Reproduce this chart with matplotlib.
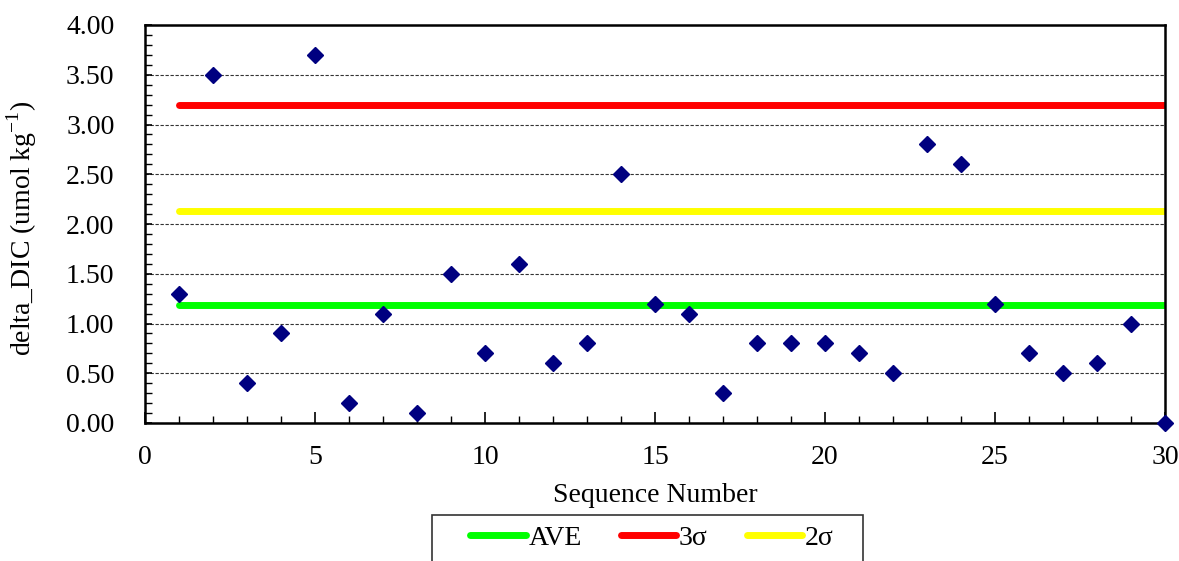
import matplotlib
matplotlib.use("Agg")
import matplotlib.pyplot as plt
from matplotlib.patches import Rectangle
from matplotlib.ticker import MultipleLocator, FormatStrFormatter

plt.rcParams['font.family'] = ['Liberation Serif', 'DejaVu Serif']
plt.rcParams['mathtext.fontset'] = 'custom'
plt.rcParams['mathtext.rm'] = 'Liberation Serif'

seq = list(range(1, 31))
delta_dic = [1.3, 3.5, 0.4, 0.9, 3.7, 0.2, 1.1, 0.1, 1.5, 0.7,
             1.6, 0.6, 0.8, 2.5, 1.2, 1.1, 0.3, 0.8, 0.8, 0.8,
             0.7, 0.5, 2.8, 2.6, 1.2, 0.7, 0.5, 0.6, 1.0, 0.0]
ave = 1.19
sigma3 = 3.20
sigma2 = 2.13
line_x = [1, 30]

fig = plt.figure(figsize=(11.79, 5.61), dpi=100)
ax = fig.add_axes([145/1179, 1-423/561, (1165-145)/1179, (423-25)/561])

ax.plot(line_x, [ave, ave], color='#00ff00', lw=5, solid_capstyle='round', label='AVE', zorder=2)
ax.plot(line_x, [sigma3, sigma3], color='#ff0000', lw=5, solid_capstyle='round', label='3σ', zorder=2)
ax.plot(line_x, [sigma2, sigma2], color='#ffff00', lw=5, solid_capstyle='round', label='2σ', zorder=2)
ax.plot(seq, delta_dic, linestyle='none', marker='D', markersize=8.5, color='#000080', zorder=3, clip_on=False)

ax.set_xlim(0, 30)
ax.set_ylim(0, 4.0)
ax.xaxis.set_major_locator(MultipleLocator(5))
ax.xaxis.set_minor_locator(MultipleLocator(1))
ax.yaxis.set_major_locator(MultipleLocator(0.5))
ax.yaxis.set_minor_locator(MultipleLocator(0.1))
ax.yaxis.set_major_formatter(FormatStrFormatter('%.2f'))
ax.grid(axis='y', which='major', linestyle=(0, (3, 1.5)), color='#333333', lw=0.8, zorder=1)
ax.tick_params(axis='both', which='major', direction='in', length=8, width=1.2, labelsize=20)
ax.tick_params(axis='x', which='major', pad=16)
ax.tick_params(axis='y', which='major', length=5, pad=22)
ax.tick_params(axis='both', which='minor', direction='in', length=5, width=1.0)
for s in ax.spines.values():
    s.set_linewidth(1.8)
    s.set_color('black')

ax.set_xlabel('Sequence Number', fontsize=20, labelpad=9)
ax.set_ylabel('delta_DIC (umol kg$^{\\mathregular{-1}}$)', fontsize=20)
ax.yaxis.set_label_coords(-106/1020, 0.49)

leg = fig.legend(loc='center left', bbox_to_anchor=(470/1179, 1-538/561), ncol=3,
                 fontsize=20, frameon=False,
                 handlelength=2.0, handletextpad=0.1, columnspacing=1.4,
                 borderpad=0, borderaxespad=0)
fig.patches.append(Rectangle((432/1179, -0.05), 431/1179, 0.05 + (561-515)/561,
                             transform=fig.transFigure, fill=False,
                             edgecolor='#333333', lw=1.2))

fig.savefig('out.png', dpi=100)
